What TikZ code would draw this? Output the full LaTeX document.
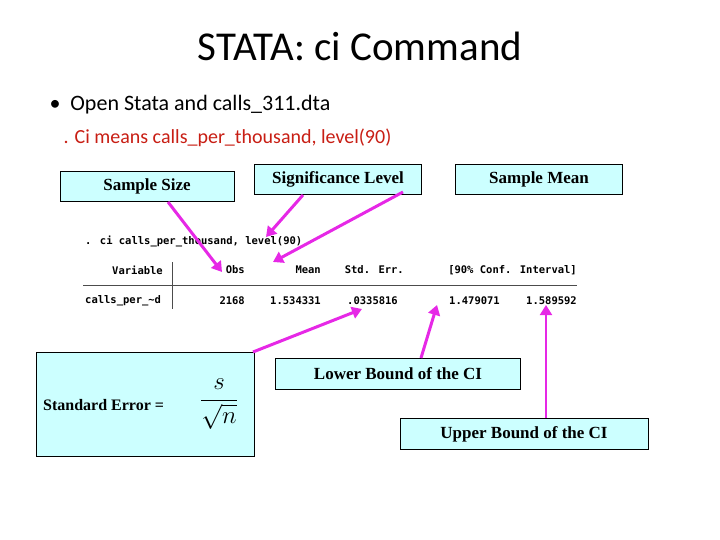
\documentclass[tikz,border=0pt]{standalone}
\usepackage{fontspec}
\setmainfont{Liberation Serif}
\newfontfamily\slidefont{Carlito}
\newfontfamily\statafont{DejaVu Sans Mono}
\usetikzlibrary{arrows.meta}
\definecolor{callout}{RGB}{204,255,255}
\definecolor{pointer}{RGB}{230,40,230}
\definecolor{cmdred}{RGB}{200,30,20}
\tikzset{
  labelbox/.style={draw=black, fill=callout, font=\bfseries\fontsize{17}{20}\selectfont, inner sep=0pt},
  pointer/.style={draw=pointer, line width=3pt, -{Triangle[length=10pt,width=12pt]}},
  statatext/.style={font=\statafont\bfseries\fontsize{10.5}{12}\selectfont, inner sep=0pt}
}
\begin{document}
\begin{tikzpicture}[x=1pt,y=-1pt]
\useasboundingbox (0,0) rectangle (720,540);

% Title and bullet
\node (title) at (360,46) {\slidefont\fontsize{41}{44}\selectfont STATA: ci Command};
\node[anchor=west] (bullet) at (46,105) {\slidefont\fontsize{22}{26}\selectfont \textbullet\ \ Open Stata and calls\_311.dta};
\node[anchor=west, text=cmdred] (cmd) at (60,138) {\slidefont\fontsize{20}{24}\selectfont . Ci means calls\_per\_thousand, level(90)};

% Stata output
\node[statatext, anchor=west] (ciline) at (85,241) {. ci calls\_per\_thousand, level(90)};
\node[statatext, anchor=east] (hvar) at (163,270) {Variable};
\node[statatext, anchor=east] (hobs) at (245,270) {Obs};
\node[statatext, anchor=east] (hmean) at (321,270) {Mean};
\node[statatext, anchor=east] (hse) at (404,270) {Std. Err.};
\node[statatext, anchor=east] (hci) at (577,270) {[90\% Conf. Interval]};
\node[statatext, anchor=west] (rvar) at (85,301) {calls\_per\_\textasciitilde d};
\node[statatext, anchor=east] (robs) at (245,301) {2168};
\node[statatext, anchor=east] (rmean) at (321,301) {1.534331};
\node[statatext, anchor=east] (rse) at (398,301) {.0335816};
\node[statatext, anchor=east] (rlo) at (500,301) {1.479071};
\node[statatext, anchor=east] (rhi) at (577,301) {1.589592};
\coordinate (hl1) at (83,285);
\coordinate (hl2) at (577,285);
\coordinate (vl1) at (172,262);
\coordinate (vl2) at (172,309);
\draw[line width=0.8pt, black!70] (hl1) -- (hl2);
\draw[line width=0.8pt, black!70] (vl1) -- (vl2);

% Callout boxes
\node[labelbox, minimum width=174pt, minimum height=30pt] (size) at (147,186) {Sample Size};
\node[labelbox, minimum width=167pt, minimum height=30pt] (sig) at (338,179) {Significance Level};
\node[labelbox, minimum width=167pt, minimum height=30pt] (mean) at (539,179) {Sample Mean};
\node[labelbox, minimum width=218pt, minimum height=104pt, anchor=north west] (se) at (36,352) {};
\node[anchor=west, font=\bfseries\fontsize{16}{19}\selectfont, inner sep=0pt] (setext) at (43,405) {Standard Error =};
\node[anchor=west, inner sep=0pt] (sefrac) at (200,404) {\fontsize{24}{28}\selectfont$\displaystyle\frac{s}{\sqrt{n}}$};
\node[labelbox, minimum width=245pt, minimum height=31pt] (lo) at (398,374) {Lower Bound of the CI};
\node[labelbox, minimum width=248pt, minimum height=31pt] (hi) at (524,434) {Upper Bound of the CI};

% Pointers
\coordinate (sizefoot) at (168,202);
\coordinate (obstip) at (222,272);
\coordinate (sigfoot) at (303,195);
\coordinate (sigtip) at (266,237);
\coordinate (meanfoot) at (403,192);
\coordinate (meantip) at (273,262);
\coordinate (sefoot) at (253,352);
\coordinate (setip) at (362,309);
\coordinate (lofoot) at (421,358);
\coordinate (lotip) at (437,305);
\coordinate (hifoot) at (546,418);
\coordinate (hitip) at (546,305);
\draw[pointer] (sizefoot) -- (obstip);
\draw[pointer] (sigfoot) -- (sigtip);
\draw[pointer] (meanfoot) -- (meantip);
\draw[pointer] (sefoot) -- (setip);
\draw[pointer] (lofoot) -- (lotip);
\draw[pointer, line width=2pt] (hifoot) -- (hitip);
\end{tikzpicture}
\end{document}
